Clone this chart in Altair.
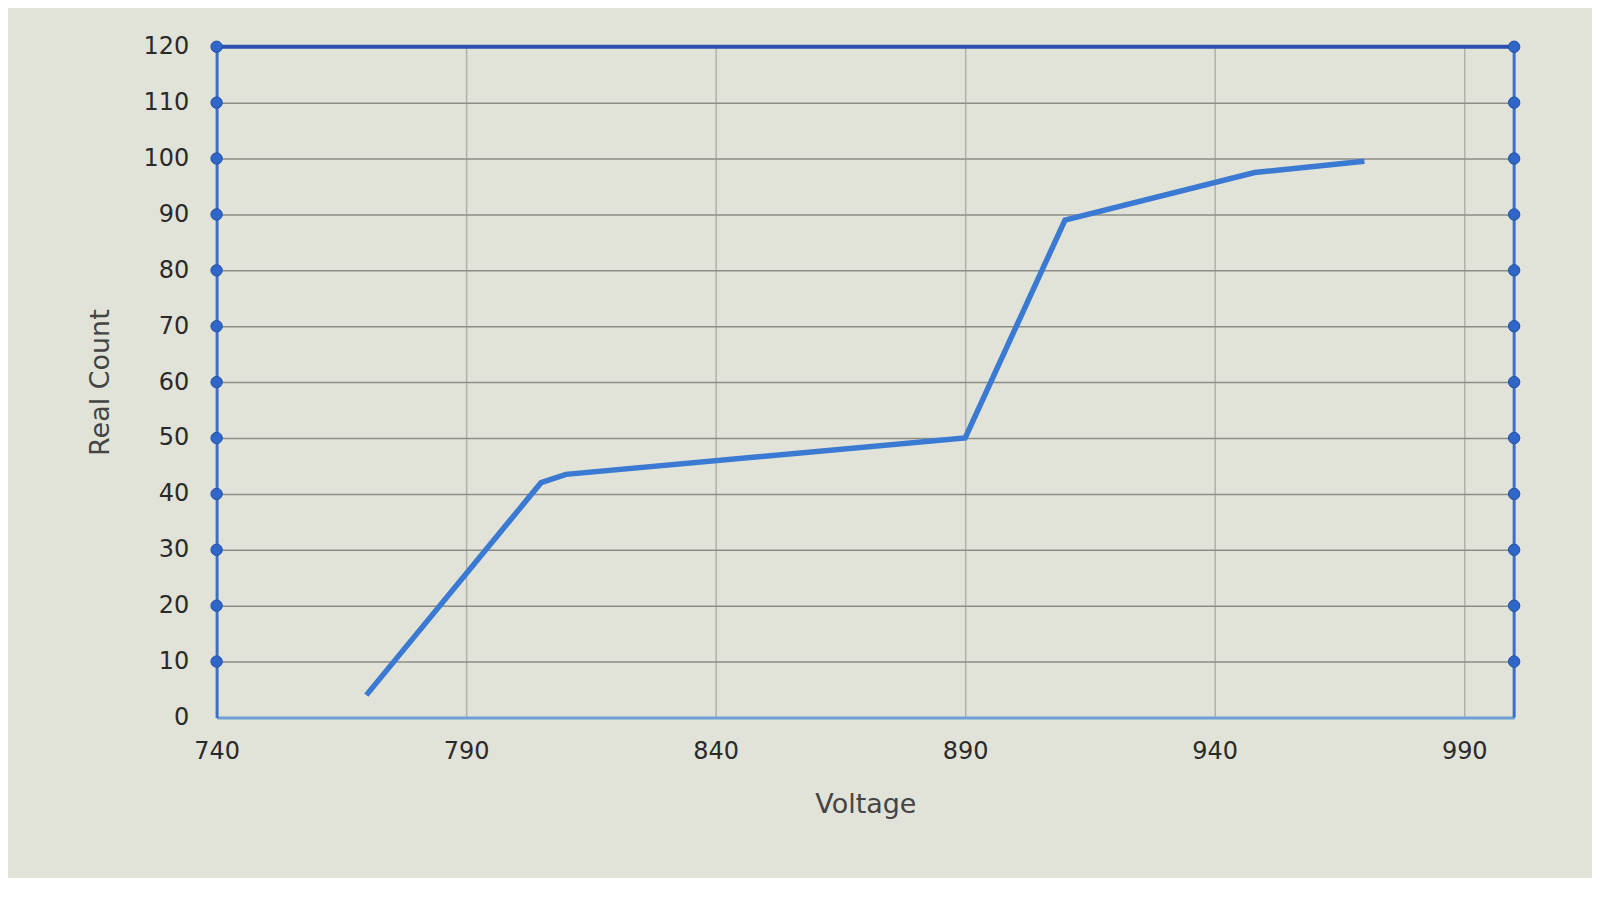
import altair as alt
import pandas as pd

# Data
voltage = [770, 805, 810, 890, 910, 948, 970]
real_count = [4, 42, 43.5, 50, 89, 97.5, 99.5]

x_ticks = [740, 790, 840, 890, 940, 990]
y_ticks = [0, 10, 20, 30, 40, 50, 60, 70, 80, 90, 100, 110, 120]
x_min, x_max = 740, 1000
y_min, y_max = 0, 120
handle_levels = [10, 20, 30, 40, 50, 60, 70, 80, 90, 100, 110, 120]

df = pd.DataFrame({"Voltage": voltage, "Real Count": real_count})
handles = pd.DataFrame({
    "Voltage": [x_min] * len(handle_levels) + [x_max] * len(handle_levels),
    "Real Count": handle_levels + handle_levels,
})
top_border = pd.DataFrame({"x": [x_min], "x2": [x_max], "y": [y_max]})
right_border = pd.DataFrame({"x": [x_max], "y": [y_min], "y2": [y_max]})

FONT = "DejaVu Sans"

x_scale = alt.Scale(domain=[x_min, x_max], nice=False, zero=False)
y_scale = alt.Scale(domain=[y_min, y_max], nice=False)

x_axis = alt.Axis(
    values=x_ticks, title="Voltage", grid=True, gridColor="#b0b1ab", gridWidth=1.5,
    domainColor="#6f9fd6", domainWidth=3, ticks=False, labelPadding=22,
    labelFontSize=24, labelColor="#2a2a2a", labelFont=FONT,
    titleFont=FONT, titleFontSize=27, titleFontWeight="normal", titleColor="#444444",
    titlePadding=28, labelFlush=False,
)
y_axis = alt.Axis(
    values=y_ticks, title="Real Count", grid=True, gridColor="#8c8d88", gridWidth=1.5,
    domainColor="#3d6fc6", domainWidth=3, ticks=False, labelPadding=28,
    labelFontSize=24, labelColor="#2a2a2a", labelFont=FONT,
    titleFont=FONT, titleFontSize=27, titleFontWeight="normal", titleColor="#444444",
    titlePadding=28,
)

line = alt.Chart(df).mark_line(color="#3a7ad2", strokeWidth=5.5, strokeJoin="miter").encode(
    x=alt.X("Voltage:Q", scale=x_scale, axis=x_axis),
    y=alt.Y("Real Count:Q", scale=y_scale, axis=y_axis),
)

top = alt.Chart(top_border).mark_rule(color="#2b4fae", strokeWidth=4).encode(
    x=alt.X("x:Q", scale=x_scale), x2="x2:Q", y=alt.Y("y:Q", scale=y_scale)
)
right = alt.Chart(right_border).mark_rule(color="#3d6fc6", strokeWidth=3).encode(
    x=alt.X("x:Q", scale=x_scale), y=alt.Y("y:Q", scale=y_scale), y2="y2:Q"
)
dots = alt.Chart(handles).mark_circle(size=130, color="#2f66c8", opacity=1,
                                      stroke="#1f4fa8", strokeWidth=1).encode(
    x=alt.X("Voltage:Q", scale=x_scale),
    y=alt.Y("Real Count:Q", scale=y_scale),
)

chart = alt.layer(line, top, right, dots).properties(
    width=1300, height=672,
    background="#e1e2d8",
    padding={"left": 79, "top": 26, "right": 70, "bottom": 60},
).configure_view(stroke=None)

chart.save("out.html", embed_options={"renderer": "svg", "actions": False})
